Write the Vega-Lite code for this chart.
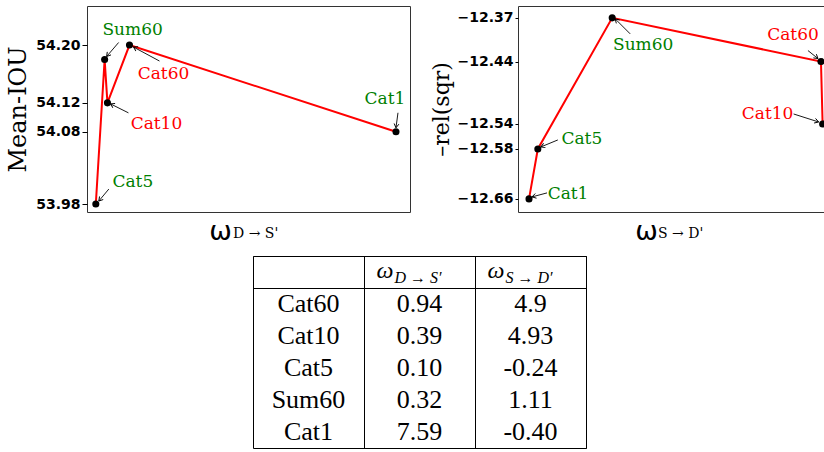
{
  "$schema": "https://vega.github.io/schema/vega-lite/v6.json",
  "padding": {"left": 6, "top": 5, "right": 0, "bottom": 0},
  "background": "white",
  "datasets": {
    "pts": [
      {"name": "Cat60", "wD": 0.94, "wS": 4.9, "miou": 54.20, "rel": -12.44},
      {"name": "Cat10", "wD": 0.39, "wS": 4.93, "miou": 54.12, "rel": -12.54},
      {"name": "Cat5", "wD": 0.10, "wS": -0.24, "miou": 53.98, "rel": -12.58},
      {"name": "Sum60", "wD": 0.32, "wS": 1.11, "miou": 54.18, "rel": -12.37},
      {"name": "Cat1", "wD": 7.59, "wS": -0.40, "miou": 54.08, "rel": -12.66}
    ],
    "tbl": [
      {"r": "Cat60", "c": "a", "t": "Cat60"}, {"r": "Cat60", "c": "b", "t": "0.94"}, {"r": "Cat60", "c": "c", "t": "4.9"},
      {"r": "Cat10", "c": "a", "t": "Cat10"}, {"r": "Cat10", "c": "b", "t": "0.39"}, {"r": "Cat10", "c": "c", "t": "4.93"},
      {"r": "Cat5", "c": "a", "t": "Cat5"}, {"r": "Cat5", "c": "b", "t": "0.10"}, {"r": "Cat5", "c": "c", "t": "-0.24"},
      {"r": "Sum60", "c": "a", "t": "Sum60"}, {"r": "Sum60", "c": "b", "t": "0.32"}, {"r": "Sum60", "c": "c", "t": "1.11"},
      {"r": "Cat1", "c": "a", "t": "Cat1"}, {"r": "Cat1", "c": "b", "t": "7.59"}, {"r": "Cat1", "c": "c", "t": "-0.40"}
    ],
    "hdr": [
      {"r": "hdr", "c": "b", "w": "ω", "s": "D → S′"},
      {"r": "hdr", "c": "c", "w": "ω", "s": "S → D′"}
    ]
  },
  "config": {
    "view": {"stroke": "#333", "strokeWidth": 1},
    "axis": {"grid": false, "labelColor": "black", "titleColor": "black", "tickColor": "black"}
  },
  "spacing": 10,
  "vconcat": [
    {
      "hconcat": [
        {
          "width": 323,
          "height": 206,
          "data": {"name": "pts"},
          "title": {"text": "D → S'", "orient": "bottom", "anchor": "start", "frame": "group", "dx": 146, "dy": -17, "font": "DejaVu Serif", "fontSize": 14, "fontWeight": "normal", "color": "black", "offset": 0},
          "encoding": {
            "x": {"field": "wD", "type": "quantitative", "scale": {"domain": [-0.12, 7.94], "nice": false, "zero": false},
                  "axis": {"labels": false, "ticks": false, "domain": false, "title": "ω", "titleFont": "DejaVu Sans", "titleFontSize": 27, "titleFontWeight": "normal", "titleX": 133, "titleY": 27, "titleBaseline": "alphabetic", "titleAlign": "center"}},
            "y": {"field": "miou", "type": "quantitative", "scale": {"domain": [53.969, 54.254], "nice": false, "zero": false},
                  "axis": {"values": [53.98, 54.08, 54.12, 54.2], "format": ".2f", "domain": false, "tickSize": 5, "labelPadding": 2, "labelFont": "DejaVu Sans", "labelFontWeight": "bold", "labelFontSize": 14, "title": "Mean-IOU", "titleFont": "DejaVu Serif", "titleFontSize": 24, "titleFontWeight": "normal", "titlePadding": 5}}
          },
          "layer": [
            {"mark": {"type": "line", "color": "#ff0000", "strokeWidth": 2}},
            {"mark": {"type": "circle", "color": "black", "size": 50, "opacity": 1}},
            {"transform": [{"filter": "datum.name === 'Sum60'"}], "layer": [
              {"mark": {"type": "text", "dx": 28, "dy": -29, "color": "#008000", "font": "DejaVu Serif", "fontSize": 17, "baseline": "middle", "align": "center"}, "encoding": {"text": {"field": "name"}}},
              {"mark": {"type": "rule", "xOffset": 14, "yOffset": -17, "x2Offset": 2, "y2Offset": -3, "color": "black", "strokeWidth": 0.9}, "encoding": {"x2": {"field": "wD"}, "y2": {"field": "miou"}}},
              {"mark": {"type": "point", "shape": "M-1,-0.6L0,0L-1,0.6", "filled": false, "size": 64, "angle": 129, "xOffset": 2, "yOffset": -3, "color": "black", "strokeWidth": 0.9, "opacity": 1}}
            ]},
            {"transform": [{"filter": "datum.name === 'Cat60'"}], "layer": [
              {"mark": {"type": "text", "dx": 34, "dy": 29, "color": "#ff0000", "font": "DejaVu Serif", "fontSize": 17, "baseline": "middle", "align": "center"}, "encoding": {"text": {"field": "name"}}},
              {"mark": {"type": "rule", "xOffset": 30, "yOffset": 16, "x2Offset": 4, "y2Offset": 2, "color": "black", "strokeWidth": 0.9}, "encoding": {"x2": {"field": "wD"}, "y2": {"field": "miou"}}},
              {"mark": {"type": "point", "shape": "M-1,-0.6L0,0L-1,0.6", "filled": false, "size": 64, "angle": 208, "xOffset": 4, "yOffset": 2, "color": "black", "strokeWidth": 0.9, "opacity": 1}}
            ]},
            {"transform": [{"filter": "datum.name === 'Cat10'"}], "layer": [
              {"mark": {"type": "text", "dx": 49, "dy": 21, "color": "#ff0000", "font": "DejaVu Serif", "fontSize": 17, "baseline": "middle", "align": "center"}, "encoding": {"text": {"field": "name"}}},
              {"mark": {"type": "rule", "xOffset": 21, "yOffset": 10, "x2Offset": 3, "y2Offset": 1, "color": "black", "strokeWidth": 0.9}, "encoding": {"x2": {"field": "wD"}, "y2": {"field": "miou"}}},
              {"mark": {"type": "point", "shape": "M-1,-0.6L0,0L-1,0.6", "filled": false, "size": 64, "angle": 207, "xOffset": 3, "yOffset": 1, "color": "black", "strokeWidth": 0.9, "opacity": 1}}
            ]},
            {"transform": [{"filter": "datum.name === 'Cat5'"}], "layer": [
              {"mark": {"type": "text", "dx": 37, "dy": -22, "color": "#008000", "font": "DejaVu Serif", "fontSize": 17, "baseline": "middle", "align": "center"}, "encoding": {"text": {"field": "name"}}},
              {"mark": {"type": "rule", "xOffset": 13, "yOffset": -15, "x2Offset": 3, "y2Offset": -3, "color": "black", "strokeWidth": 0.9}, "encoding": {"x2": {"field": "wD"}, "y2": {"field": "miou"}}},
              {"mark": {"type": "point", "shape": "M-1,-0.6L0,0L-1,0.6", "filled": false, "size": 64, "angle": 130, "xOffset": 3, "yOffset": -3, "color": "black", "strokeWidth": 0.9, "opacity": 1}}
            ]},
            {"transform": [{"filter": "datum.name === 'Cat1'"}], "layer": [
              {"mark": {"type": "text", "dx": -11, "dy": -33, "color": "#008000", "font": "DejaVu Serif", "fontSize": 17, "baseline": "middle", "align": "center"}, "encoding": {"text": {"field": "name"}}},
              {"mark": {"type": "rule", "xOffset": 2, "yOffset": -19, "x2Offset": 0, "y2Offset": -4, "color": "black", "strokeWidth": 0.9}, "encoding": {"x2": {"field": "wD"}, "y2": {"field": "miou"}}},
              {"mark": {"type": "point", "shape": "M-1,-0.6L0,0L-1,0.6", "filled": false, "size": 64, "angle": 98, "xOffset": 0, "yOffset": -4, "color": "black", "strokeWidth": 0.9, "opacity": 1}}
            ]}
          ]
        },
        {
          "width": 325,
          "height": 206,
          "data": {"name": "pts"},
          "title": {"text": "S → D'", "orient": "bottom", "anchor": "start", "frame": "group", "dx": 140, "dy": -17, "font": "DejaVu Serif", "fontSize": 14, "fontWeight": "normal", "color": "black", "offset": 0},
          "encoding": {
            "x": {"field": "wS", "type": "quantitative", "scale": {"domain": [-0.6, 5.3], "nice": false, "zero": false},
                  "axis": {"labels": false, "ticks": false, "domain": false, "title": "ω", "titleFont": "DejaVu Sans", "titleFontSize": 27, "titleFontWeight": "normal", "titleX": 128, "titleY": 27, "titleBaseline": "alphabetic", "titleAlign": "center"}},
            "y": {"field": "rel", "type": "quantitative", "scale": {"domain": [-12.681, -12.351], "nice": false, "zero": false},
                  "axis": {"values": [-12.66, -12.58, -12.54, -12.44, -12.37], "format": ".2f", "domain": false, "tickSize": 3, "labelPadding": 2, "labelFont": "DejaVu Sans", "labelFontWeight": "bold", "labelFontSize": 14, "title": "–rel(sqr)", "titleFont": "DejaVu Serif", "titleFontSize": 22, "titleFontWeight": "normal", "titlePadding": 3}}
          },
          "layer": [
            {"mark": {"type": "line", "color": "#ff0000", "strokeWidth": 2}},
            {"mark": {"type": "circle", "color": "black", "size": 50, "opacity": 1}},
            {"transform": [{"filter": "datum.name === 'Sum60'"}], "layer": [
              {"mark": {"type": "text", "dx": 31, "dy": 27, "color": "#008000", "font": "DejaVu Serif", "fontSize": 17, "baseline": "middle", "align": "center"}, "encoding": {"text": {"field": "name"}}},
              {"mark": {"type": "rule", "xOffset": 18, "yOffset": 16, "x2Offset": 3, "y2Offset": 1, "color": "black", "strokeWidth": 0.9}, "encoding": {"x2": {"field": "wS"}, "y2": {"field": "rel"}}},
              {"mark": {"type": "point", "shape": "M-1,-0.6L0,0L-1,0.6", "filled": false, "size": 64, "angle": 225, "xOffset": 3, "yOffset": 1, "color": "black", "strokeWidth": 0.9, "opacity": 1}}
            ]},
            {"transform": [{"filter": "datum.name === 'Cat60'"}], "layer": [
              {"mark": {"type": "text", "dx": -28, "dy": -27, "color": "#ff0000", "font": "DejaVu Serif", "fontSize": 17, "baseline": "middle", "align": "center"}, "encoding": {"text": {"field": "name"}}},
              {"mark": {"type": "rule", "xOffset": -13, "yOffset": -11, "x2Offset": -3, "y2Offset": -3, "color": "black", "strokeWidth": 0.9}, "encoding": {"x2": {"field": "wS"}, "y2": {"field": "rel"}}},
              {"mark": {"type": "point", "shape": "M-1,-0.6L0,0L-1,0.6", "filled": false, "size": 64, "angle": 39, "xOffset": -3, "yOffset": -3, "color": "black", "strokeWidth": 0.9, "opacity": 1}}
            ]},
            {"transform": [{"filter": "datum.name === 'Cat10'"}], "layer": [
              {"mark": {"type": "text", "dx": -55, "dy": -10, "color": "#ff0000", "font": "DejaVu Serif", "fontSize": 17, "baseline": "middle", "align": "center"}, "encoding": {"text": {"field": "name"}}},
              {"mark": {"type": "rule", "xOffset": -29, "yOffset": -10, "x2Offset": -4, "y2Offset": -2, "color": "black", "strokeWidth": 0.9}, "encoding": {"x2": {"field": "wS"}, "y2": {"field": "rel"}}},
              {"mark": {"type": "point", "shape": "M-1,-0.6L0,0L-1,0.6", "filled": false, "size": 64, "angle": 18, "xOffset": -4, "yOffset": -2, "color": "black", "strokeWidth": 0.9, "opacity": 1}}
            ]},
            {"transform": [{"filter": "datum.name === 'Cat5'"}], "layer": [
              {"mark": {"type": "text", "dx": 44, "dy": -10, "color": "#008000", "font": "DejaVu Serif", "fontSize": 17, "baseline": "middle", "align": "center"}, "encoding": {"text": {"field": "name"}}},
              {"mark": {"type": "rule", "xOffset": 20, "yOffset": -9, "x2Offset": 3, "y2Offset": -2, "color": "black", "strokeWidth": 0.9}, "encoding": {"x2": {"field": "wS"}, "y2": {"field": "rel"}}},
              {"mark": {"type": "point", "shape": "M-1,-0.6L0,0L-1,0.6", "filled": false, "size": 64, "angle": 158, "xOffset": 3, "yOffset": -2, "color": "black", "strokeWidth": 0.9, "opacity": 1}}
            ]},
            {"transform": [{"filter": "datum.name === 'Cat1'"}], "layer": [
              {"mark": {"type": "text", "dx": 39, "dy": -5, "color": "#008000", "font": "DejaVu Serif", "fontSize": 17, "baseline": "middle", "align": "center"}, "encoding": {"text": {"field": "name"}}},
              {"mark": {"type": "rule", "xOffset": 18, "yOffset": -6, "x2Offset": 3, "y2Offset": -2, "color": "black", "strokeWidth": 0.9}, "encoding": {"x2": {"field": "wS"}, "y2": {"field": "rel"}}},
              {"mark": {"type": "point", "shape": "M-1,-0.6L0,0L-1,0.6", "filled": false, "size": 64, "angle": 165, "xOffset": 3, "yOffset": -2, "color": "black", "strokeWidth": 0.9, "opacity": 1}}
            ]}
          ]
        }
      ],
      "spacing": 19
    },
    {
      "hconcat": [
        {
          "width": 165,
          "height": 10,
          "view": {"stroke": null},
          "data": {"values": []},
          "mark": {"type": "text"},
          "encoding": {}
        },
        {
          "width": 333,
          "height": 192,
          "view": {"stroke": "black", "strokeWidth": 1},
          "encoding": {
            "x": {"field": "c", "type": "nominal", "scale": {"domain": ["a", "b", "c"], "paddingInner": 0, "paddingOuter": 0},
                  "axis": {"values": ["b", "c"], "tickBand": "extent", "grid": true, "gridColor": "black", "gridWidth": 1, "gridOpacity": 1, "labels": false, "ticks": false, "domain": false, "title": null}},
            "y": {"field": "r", "type": "nominal", "scale": {"domain": ["hdr", "Cat60", "Cat10", "Cat5", "Sum60", "Cat1"], "paddingInner": 0, "paddingOuter": 0},
                  "axis": {"values": ["hdr"], "tickBand": "extent", "grid": true, "gridColor": "black", "gridWidth": 1, "gridOpacity": 1, "labels": false, "ticks": false, "domain": false, "title": null}}
          },
          "layer": [
            {"data": {"name": "tbl"}, "mark": {"type": "text", "font": "Liberation Serif", "fontSize": 26, "baseline": "middle", "align": "center", "color": "black", "dy": 0}, "encoding": {"text": {"field": "t"}}},
            {"data": {"name": "hdr"}, "mark": {"type": "text", "font": "Liberation Serif", "fontStyle": "italic", "fontSize": 24, "baseline": "alphabetic", "align": "left", "color": "black", "dx": -43, "dy": 6}, "encoding": {"text": {"field": "w"}}},
            {"data": {"name": "hdr"}, "mark": {"type": "text", "font": "Liberation Serif", "fontStyle": "italic", "fontSize": 16, "baseline": "alphabetic", "align": "left", "color": "black", "dx": -25, "dy": 11}, "encoding": {"text": {"field": "s"}}}
          ]
        }
      ],
      "spacing": 0
    }
  ]
}
